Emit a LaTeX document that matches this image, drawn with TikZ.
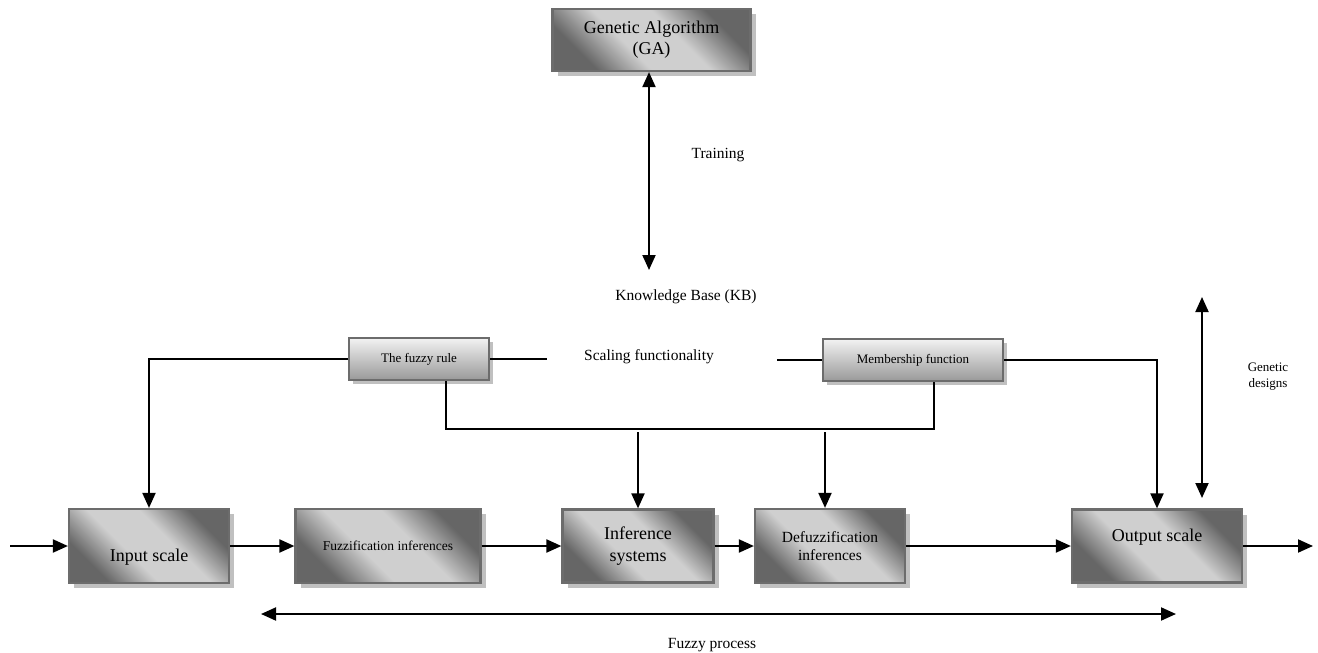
\documentclass[tikz,border=0pt]{standalone}
\usepackage{fontspec}
\setmainfont{Liberation Serif}
\usetikzlibrary{arrows.meta,shadows}
\definecolor{boxdark}{HTML}{666666}
\definecolor{boxmid}{HTML}{9E9E9E}
\definecolor{boxlight}{HTML}{CFCFCF}
\definecolor{boxedge}{HTML}{6C6C6C}
\definecolor{shadowgray}{HTML}{C0C0C0}
\pgfdeclareverticalshading{diagshade}{100bp}{color(0bp)=(boxdark); color(27bp)=(boxdark); color(35bp)=(boxmid); color(42bp)=(boxlight); color(58bp)=(boxlight); color(65bp)=(boxmid); color(73bp)=(boxdark); color(100bp)=(boxdark)}
\tikzset{
  bigbox/.style={draw=boxedge, line width=2.2pt, shading=diagshade, shading angle=-45,
    drop shadow={shadow xshift=5pt, shadow yshift=-5pt, fill=shadowgray, opacity=1},
    inner sep=2pt, align=center},
  smallbox/.style={draw=boxedge, line width=2pt, top color=black!5, bottom color=black!40,
    drop shadow={shadow xshift=4pt, shadow yshift=-4pt, fill=shadowgray, opacity=1},
    minimum width=140pt, minimum height=42pt, inner sep=2pt, align=center, font=\fontsize{13}{15}\selectfont},
  conn/.style={line width=2pt, draw=black},
  arr/.style={conn, -{Triangle[length=15pt,width=13pt]}},
  darr/.style={conn, {Triangle[length=15pt,width=13pt]}-{Triangle[length=15pt,width=13pt]}},
  lbl/.style={font=\fontsize{15.5}{18}\selectfont, align=center, inner sep=0pt},
}
\begin{document}
\begin{tikzpicture}[x=1pt,y=-1pt]
\useasboundingbox (0,0) rectangle (1318,653);

% boxes
\node[bigbox, minimum width=198pt, minimum height=62pt, font=\fontsize{18}{21}\selectfont] (ga) at (651.5,40) {Genetic Algorithm\\(GA)};
\node[smallbox, minimum width=140pt] (fr) at (419,359) {The fuzzy rule};
\node[smallbox, minimum width=180pt] (mf) at (913,360) {Membership function};
\node[bigbox, minimum width=160pt, minimum height=74pt, font=\fontsize{18}{21}\selectfont, text height=30pt, text depth=0pt] (in) at (149,546) {Input scale};
\node[bigbox, minimum width=185pt, minimum height=74pt, font=\fontsize{13.5}{16}\selectfont] (fz) at (388,546) {Fuzzification inferences};
\node[bigbox, minimum width=151pt, minimum height=73pt, font=\fontsize{18}{22}\selectfont] (is) at (638,546) {Inference\\systems};
\node[bigbox, minimum width=150pt, minimum height=74pt, font=\fontsize{15.5}{18}\selectfont] (df) at (830,546) {Defuzzification\\inferences};
\node[bigbox, minimum width=170pt, minimum height=73pt, font=\fontsize{18}{21}\selectfont, text height=5pt, text depth=15pt] (out) at (1157,546) {Output scale};

% labels
\node[lbl] (train) at (718,155) {Training};
\node[lbl] (kb) at (686,297) {Knowledge Base (KB)};
\node[lbl] (scal) at (649,357) {Scaling functionality};
\node[lbl, font=\fontsize{13}{16}\selectfont] (gd) at (1268,377) {Genetic\\designs};
\node[lbl] (fp) at (712,645) {Fuzzy process};

% free ends
\coordinate (inpt) at (10,546);
\coordinate (outpt) at (1313,546);
\coordinate (kbtop) at (649,270);
\coordinate (frend) at (547,359);
\coordinate (mfend) at (777,360);
\coordinate (gdtop) at (1202,297);
\coordinate (gdbot) at (1202,498);
\coordinate (fpl) at (261,614);
\coordinate (fpr) at (1176,614);
\coordinate (isin) at (638,432);
\coordinate (dfin) at (825,432);

% training arrow
\draw[darr] (ga.south -| kbtop) -- (kbtop);

% main flow
\draw[arr] (inpt) -- (in.west);
\draw[arr] (in.east) -- (fz.west);
\draw[arr] (fz.east) -- (is.west);
\draw[arr] (is.east) -- (df.west);
\draw[arr] (df.east) -- (out.west);
\draw[arr] (out.east) -- (outpt);

% knowledge base connections
\draw[arr] (fr.west) -| (in.north);
\draw[conn] (fr.east) -- (frend);
\draw[conn] (mfend) -- (mf.west);
\draw[arr] (mf.east) -| (out.north);
\draw[conn] ([xshift=27pt]fr.south) -- ++(0,48) -| ([xshift=21pt]mf.south);
\draw[arr] (isin) -- (is.north);
\draw[arr] (dfin) -- (df.north -| dfin);

% genetic designs and fuzzy process
\draw[darr] (gdtop) -- (gdbot);
\draw[darr] (fpl) -- (fpr);
\end{tikzpicture}
\end{document}
